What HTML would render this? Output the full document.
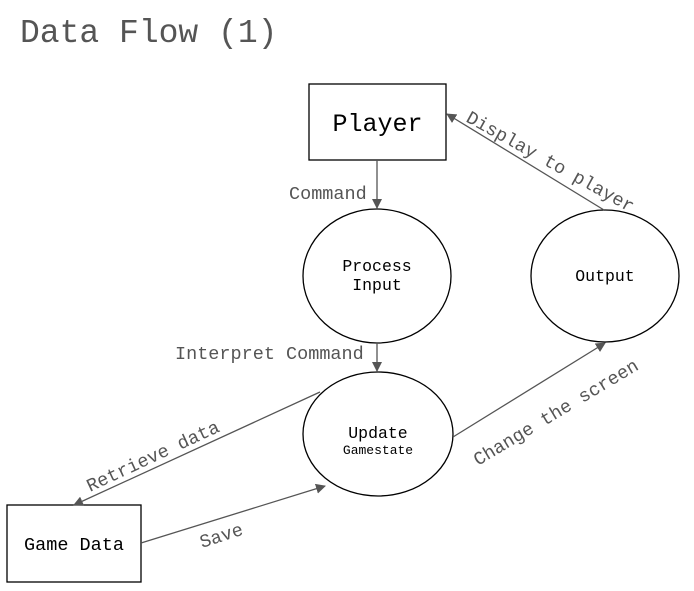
<!DOCTYPE html>
<html><head><meta charset="utf-8"><style>
html,body{margin:0;padding:0;background:#fff;}
svg{display:block;}
text{font-family:"Liberation Mono","DejaVu Sans Mono",monospace;}
</style></head><body>
<svg width="694" height="591" viewBox="0 0 694 591" xmlns="http://www.w3.org/2000/svg">
<defs>
<marker id="a" markerWidth="10" markerHeight="10" refX="9" refY="5" orient="auto" markerUnits="userSpaceOnUse">
<path d="M0,0 L10,5 L0,10 z" fill="#555"/>
</marker>
</defs>
<text x="20" y="42" font-size="33" fill="#555">Data Flow (1)</text>
<rect x="309" y="84" width="137" height="76" fill="#fff" stroke="#000" stroke-width="1.3"/>
<text x="377.5" y="131" font-size="25" text-anchor="middle" fill="#000">Player</text>
<ellipse cx="377" cy="276" rx="74" ry="67" fill="#fff" stroke="#000" stroke-width="1.3"/>
<text x="377" y="271" font-size="16.5" text-anchor="middle">Process</text>
<text x="377" y="290" font-size="16.5" text-anchor="middle">Input</text>
<ellipse cx="605" cy="276" rx="74" ry="66" fill="#fff" stroke="#000" stroke-width="1.3"/>
<text x="605" y="281" font-size="16.5" text-anchor="middle">Output</text>
<ellipse cx="378" cy="434" rx="75" ry="62" fill="#fff" stroke="#000" stroke-width="1.3"/>
<text x="378" y="438" font-size="16.5" text-anchor="middle">Update</text>
<text x="378" y="454" font-size="13" text-anchor="middle">Gamestate</text>
<rect x="7" y="505" width="134" height="77" fill="#fff" stroke="#000" stroke-width="1.3"/>
<text x="74" y="550" font-size="18.5" text-anchor="middle">Game Data</text>
<g stroke="#555" stroke-width="1.3" fill="none">
<line x1="377" y1="160" x2="377" y2="208" marker-end="url(#a)"/>
<line x1="377" y1="343" x2="377" y2="371" marker-end="url(#a)"/>
<line x1="604" y1="210" x2="447" y2="114" marker-end="url(#a)"/>
<line x1="453" y1="437" x2="605" y2="343" marker-end="url(#a)"/>
<line x1="320" y1="392" x2="74" y2="505" marker-end="url(#a)"/>
<line x1="141" y1="543" x2="325" y2="486" marker-end="url(#a)"/>
</g>
<g fill="#555" font-size="18.5">
<text x="289" y="199">Command</text>
<text x="175" y="359">Interpret Command</text>
<text transform="translate(465,121) rotate(29)">Display to player</text>
<text transform="translate(478,466) rotate(-31)">Change the screen</text>
<text transform="translate(90,492) rotate(-25)">Retrieve data</text>
<text transform="translate(202,548) rotate(-18)">Save</text>
</g>
</svg>
</body></html>
